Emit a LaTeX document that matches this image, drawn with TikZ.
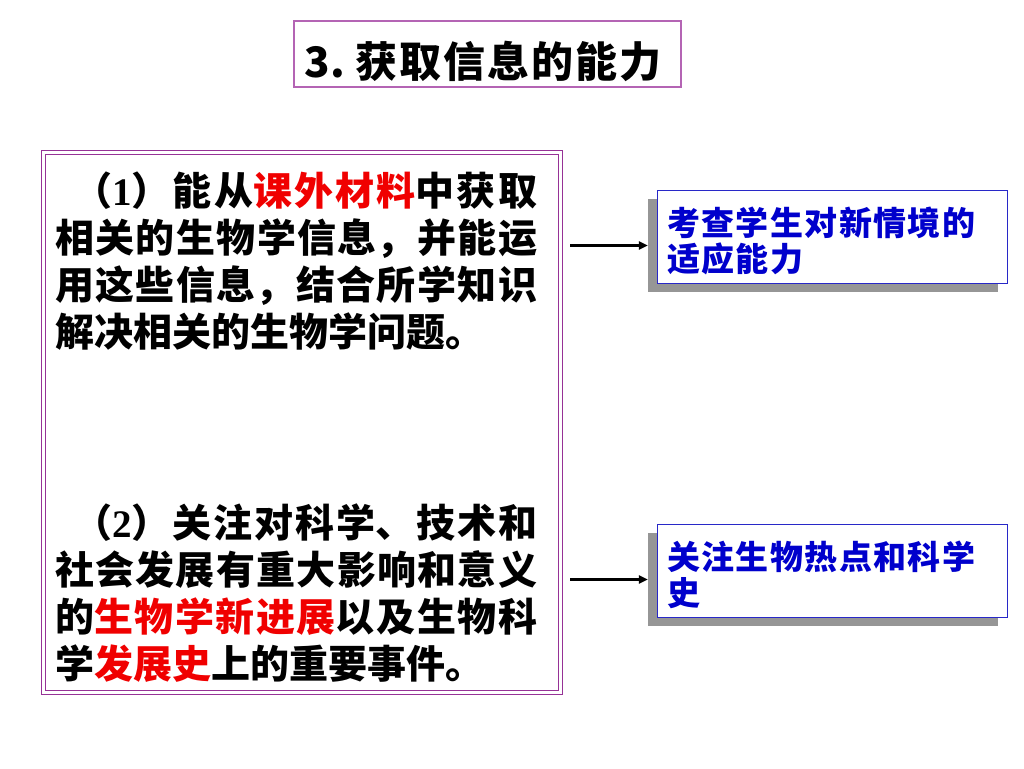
\documentclass[tikz,border=0pt]{standalone}
\usepackage{fontspec}
\setmainfont{Noto Sans CJK SC}
\newfontfamily\tnr{Liberation Serif}
\usetikzlibrary{arrows.meta}
\definecolor{titlepurple}{RGB}{180,100,180}
\definecolor{boxpurple}{RGB}{150,50,150}
\definecolor{boxblue}{RGB}{40,40,200}
\definecolor{textblue}{RGB}{0,0,204}
\definecolor{shadowgray}{RGB}{150,150,150}
\definecolor{hlred}{RGB}{240,0,0}
\XeTeXlinebreaklocale "zh"
\newcommand{\tsp}{\hspace{2pt}}
\begin{document}
\begin{tikzpicture}[x=1pt,y=-1pt,
  frame/.style={draw=boxblue, line width=1pt, fill=white, minimum width=350pt, minimum height=93pt, inner sep=0pt},
  shade/.style={fill=shadowgray, minimum width=350pt, minimum height=93pt, inner sep=0pt},
  para/.style={anchor=base west, inner sep=0pt, font=\bfseries\fontsize{39}{47}\selectfont},
  note/.style={anchor=base west, inner sep=0pt, text=textblue, font=\bfseries\fontsize{33}{36}\selectfont},
  link/.style={line width=2.2pt, -{Triangle[length=9pt,width=8pt]}},
]
\useasboundingbox[fill=white] (0,0) rectangle (1024,768);

% title
\node[draw=titlepurple, line width=1.6pt, minimum width=387pt, minimum height=66pt, inner sep=0pt] (titlebox) at (487.5,54) {};
\node[inner sep=0pt, font=\bfseries\fontsize{42}{50}\selectfont] (title) at (483,61) {3.\hspace{10pt}获\tsp 取\tsp 信\tsp 息\tsp 的\tsp 能\tsp 力};

% left box
\node[draw=boxpurple, double=white, double distance=2.2pt, line width=1.8pt, minimum width=517pt, minimum height=540pt, inner sep=0pt] (leftbox) at (302,422.5) {};

\node[para] (p1) at (55,205) {\parbox[t]{482pt}{\XeTeXlinebreakskip=0pt plus 3pt\hspace*{18pt}（{\tnr 1}）能从\textcolor{hlred}{课外材料}中获取\linebreak 相关的生物学信息，并能运\linebreak 用这些信息，结合所学知识\linebreak 解决相关的生物学问题。}};

\node[para] (p2) at (55,537) {\parbox[t]{482pt}{\XeTeXlinebreakskip=0pt plus 3pt\hspace*{18pt}（{\tnr 2}）关注对科学、技术和\linebreak 社会发展有重大影响和意义\linebreak 的\textcolor{hlred}{生物学新进展}以及生物科\linebreak 学\textcolor{hlred}{发展史}上的重要事件。}};

% right boxes
\node[shade] (s1) at (823,245.5) {};
\node[frame] (b1) at (832,236.5) {};
\node[note] (t1) at (667,235.5) {\parbox[t]{330pt}{\raggedright\XeTeXlinebreakskip=1.4pt 考查学生对新情境的\\适应能力}};

\node[shade] (s2) at (823,579.5) {};
\node[frame] (b2) at (832,570.5) {};
\node[note] (t2) at (667,569.5) {\parbox[t]{330pt}{\raggedright\XeTeXlinebreakskip=1.4pt 关注生物热点和科学\\史}};

% connectors
\coordinate (a1) at (570,245.5);
\coordinate (a2) at (570,579.5);
\draw[link] (a1) -- (s1.west);
\draw[link] (a2) -- (s2.west);
\end{tikzpicture}
\end{document}
